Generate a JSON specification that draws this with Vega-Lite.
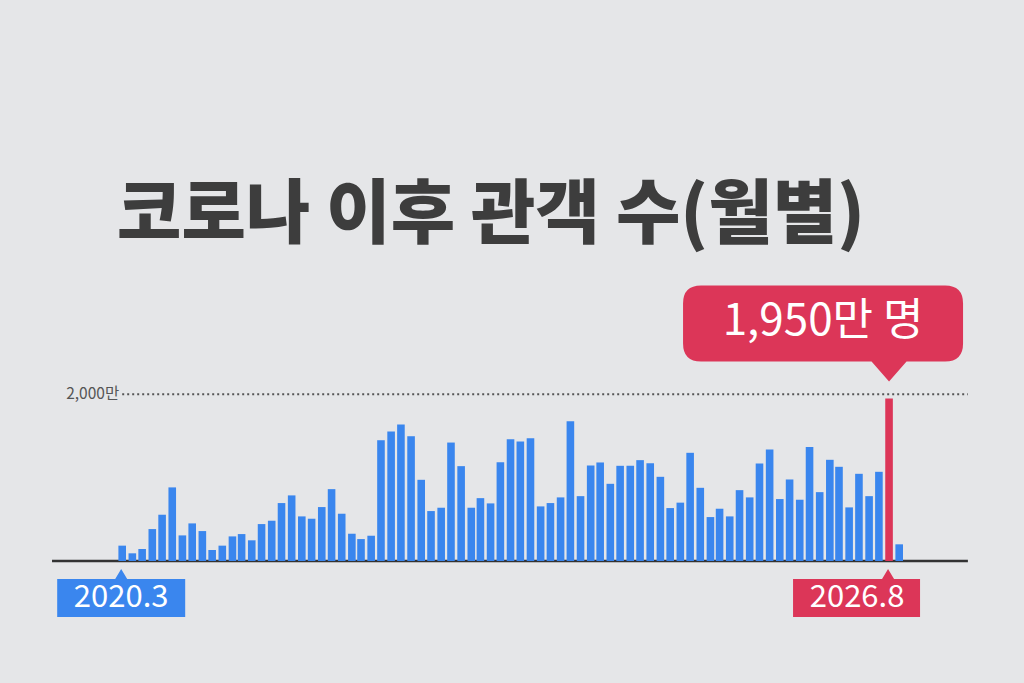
{
  "$schema": "https://vega.github.io/schema/vega-lite/v6.json",
  "width": 1024,
  "height": 683,
  "autosize": "none",
  "padding": 0,
  "background": "#e5e6e8",
  "title": {
    "text": "코로나 이후 관객 수(월별)",
    "anchor": "start",
    "dx": 117,
    "offset": -308,
    "baseline": "alphabetic",
    "font": "Noto Sans CJK KR",
    "fontSize": 70,
    "fontWeight": 900,
    "color": "#3d3d3d"
  },
  "data": {
    "values": [
      {"m": "2020.3", "date": "2020-03-01", "v": 184},
      {"m": "2020.4", "date": "2020-04-01", "v": 92},
      {"m": "2020.5", "date": "2020-05-01", "v": 144},
      {"m": "2020.6", "date": "2020-06-01", "v": 383},
      {"m": "2020.7", "date": "2020-07-01", "v": 555},
      {"m": "2020.8", "date": "2020-08-01", "v": 883},
      {"m": "2020.9", "date": "2020-09-01", "v": 307},
      {"m": "2020.10", "date": "2020-10-01", "v": 451},
      {"m": "2020.11", "date": "2020-11-01", "v": 359},
      {"m": "2020.12", "date": "2020-12-01", "v": 132},
      {"m": "2021.1", "date": "2021-01-01", "v": 184},
      {"m": "2021.2", "date": "2021-02-01", "v": 295},
      {"m": "2021.3", "date": "2021-03-01", "v": 323},
      {"m": "2021.4", "date": "2021-04-01", "v": 248},
      {"m": "2021.5", "date": "2021-05-01", "v": 443},
      {"m": "2021.6", "date": "2021-06-01", "v": 483},
      {"m": "2021.7", "date": "2021-07-01", "v": 695},
      {"m": "2021.8", "date": "2021-08-01", "v": 787},
      {"m": "2021.9", "date": "2021-09-01", "v": 535},
      {"m": "2021.10", "date": "2021-10-01", "v": 507},
      {"m": "2021.11", "date": "2021-11-01", "v": 647},
      {"m": "2021.12", "date": "2021-12-01", "v": 862},
      {"m": "2022.1", "date": "2022-01-01", "v": 567},
      {"m": "2022.2", "date": "2022-02-01", "v": 327},
      {"m": "2022.3", "date": "2022-03-01", "v": 263},
      {"m": "2022.4", "date": "2022-04-01", "v": 303},
      {"m": "2022.5", "date": "2022-05-01", "v": 1449},
      {"m": "2022.6", "date": "2022-06-01", "v": 1553},
      {"m": "2022.7", "date": "2022-07-01", "v": 1637},
      {"m": "2022.8", "date": "2022-08-01", "v": 1497},
      {"m": "2022.9", "date": "2022-09-01", "v": 974},
      {"m": "2022.10", "date": "2022-10-01", "v": 599},
      {"m": "2022.11", "date": "2022-11-01", "v": 639},
      {"m": "2022.12", "date": "2022-12-01", "v": 1421},
      {"m": "2023.1", "date": "2023-01-01", "v": 1138},
      {"m": "2023.2", "date": "2023-02-01", "v": 639},
      {"m": "2023.3", "date": "2023-03-01", "v": 754},
      {"m": "2023.4", "date": "2023-04-01", "v": 691},
      {"m": "2023.5", "date": "2023-05-01", "v": 1186},
      {"m": "2023.6", "date": "2023-06-01", "v": 1461},
      {"m": "2023.7", "date": "2023-07-01", "v": 1433},
      {"m": "2023.8", "date": "2023-08-01", "v": 1473},
      {"m": "2023.9", "date": "2023-09-01", "v": 655},
      {"m": "2023.10", "date": "2023-10-01", "v": 695},
      {"m": "2023.11", "date": "2023-11-01", "v": 763},
      {"m": "2023.12", "date": "2023-12-01", "v": 1677},
      {"m": "2024.1", "date": "2024-01-01", "v": 778},
      {"m": "2024.2", "date": "2024-02-01", "v": 1146},
      {"m": "2024.3", "date": "2024-03-01", "v": 1182},
      {"m": "2024.4", "date": "2024-04-01", "v": 926},
      {"m": "2024.5", "date": "2024-05-01", "v": 1142},
      {"m": "2024.6", "date": "2024-06-01", "v": 1142},
      {"m": "2024.7", "date": "2024-07-01", "v": 1210},
      {"m": "2024.8", "date": "2024-08-01", "v": 1174},
      {"m": "2024.9", "date": "2024-09-01", "v": 1010},
      {"m": "2024.10", "date": "2024-10-01", "v": 635},
      {"m": "2024.11", "date": "2024-11-01", "v": 700},
      {"m": "2024.12", "date": "2024-12-01", "v": 1298},
      {"m": "2025.1", "date": "2025-01-01", "v": 878},
      {"m": "2025.2", "date": "2025-02-01", "v": 527},
      {"m": "2025.3", "date": "2025-03-01", "v": 627},
      {"m": "2025.4", "date": "2025-04-01", "v": 535},
      {"m": "2025.5", "date": "2025-05-01", "v": 850},
      {"m": "2025.6", "date": "2025-06-01", "v": 763},
      {"m": "2025.7", "date": "2025-07-01", "v": 1170},
      {"m": "2025.8", "date": "2025-08-01", "v": 1337},
      {"m": "2025.9", "date": "2025-09-01", "v": 743},
      {"m": "2025.10", "date": "2025-10-01", "v": 978},
      {"m": "2025.11", "date": "2025-11-01", "v": 735},
      {"m": "2025.12", "date": "2025-12-01", "v": 1369},
      {"m": "2026.1", "date": "2026-01-01", "v": 826},
      {"m": "2026.2", "date": "2026-02-01", "v": 1214},
      {"m": "2026.3", "date": "2026-03-01", "v": 1130},
      {"m": "2026.4", "date": "2026-04-01", "v": 643},
      {"m": "2026.5", "date": "2026-05-01", "v": 1046},
      {"m": "2026.6", "date": "2026-06-01", "v": 778},
      {"m": "2026.7", "date": "2026-07-01", "v": 1070},
      {"m": "2026.8", "date": "2026-08-01", "v": 1950},
      {"m": "2026.9", "date": "2026-09-01", "v": 200}
    ]
  },
  "layer": [
    {
      "data": {"values": [{}]},
      "mark": {"type": "rule", "color": "#333333", "strokeWidth": 2.5},
      "encoding": {
        "x": {"datum": {"year": 2019, "month": 7, "date": 30, "hours": 12, "utc": true}, "type": "temporal"},
        "x2": {"datum": {"year": 2027, "month": 3, "date": 30, "utc": true}},
        "y": {"datum": 0, "type": "quantitative"}
      }
    },
    {
      "data": {"values": [{}]},
      "mark": {"type": "rule", "color": "#555555", "strokeWidth": 2, "strokeDash": [2, 3]},
      "encoding": {
        "x": {"datum": {"year": 2020, "month": 3, "date": 1, "utc": true}, "type": "temporal"},
        "x2": {"datum": {"year": 2027, "month": 3, "date": 30, "utc": true}},
        "y": {"datum": 2000, "type": "quantitative"}
      }
    },
    {
      "data": {"values": [{}]},
      "mark": {"type": "text", "align": "right", "baseline": "middle", "dx": -3, "fontSize": 15.5, "color": "#555555", "font": "Noto Sans CJK KR"},
      "encoding": {
        "x": {"datum": {"year": 2020, "month": 3, "date": 1, "utc": true}, "type": "temporal"},
        "y": {"datum": 2000, "type": "quantitative"},
        "text": {"value": "2,000만"}
      }
    },
    {
      "mark": {"type": "bar", "orient": "vertical", "width": 7.6},
      "encoding": {
        "x": {
          "field": "date",
          "type": "temporal",
          "axis": null,
          "scale": {
            "type": "utc",
            "padding": 0,
            "domain": [
              {"year": 2019, "month": 2, "date": 21, "hours": 12, "utc": true},
              {"year": 2027, "month": 9, "date": 17, "hours": 12, "utc": true}
            ]
          }
        },
        "y": {
          "field": "v",
          "type": "quantitative",
          "axis": null,
          "scale": {"domain": [-1464, 6731], "nice": false, "zero": false, "padding": 0}
        },
        "y2": {"datum": 0},
        "color": {
          "condition": {"test": "datum.m === '2026.8'", "value": "#dc3658"},
          "value": "#3a86ee"
        }
      }
    },
    {
      "transform": [{"filter": {"field": "m", "equal": "2026.8"}}],
      "mark": {
        "type": "point",
        "shape": "M -1.88 -1.13 L 0.56 -1.13 Q 0.74 -1.13 0.74 -0.95 L 0.74 -0.55 Q 0.74 -0.37 0.56 -0.37 L 0.175 -0.37 L 0 -0.17 L -0.175 -0.37 L -1.88 -0.37 Q -2.06 -0.37 -2.06 -0.55 L -2.06 -0.95 Q -2.06 -1.13 -1.88 -1.13 Z",
        "size": 40000,
        "filled": true,
        "opacity": 1,
        "strokeWidth": 0,
        "color": "#dc3658"
      },
      "encoding": {
        "x": {"field": "date", "type": "temporal"},
        "y": {"field": "v", "type": "quantitative"}
      }
    },
    {
      "transform": [{"filter": {"field": "m", "equal": "2026.8"}}],
      "mark": {"type": "text", "align": "center", "baseline": "middle", "dx": -66, "dy": -76, "fontSize": 44, "color": "#ffffff", "font": "Noto Sans CJK KR"},
      "encoding": {
        "x": {"field": "date", "type": "temporal"},
        "y": {"field": "v", "type": "quantitative"},
        "text": {"value": "1,950만 명"}
      }
    },
    {
      "transform": [{"filter": {"field": "m", "equal": "2020.3"}}],
      "mark": {
        "type": "point",
        "shape": "M -0.65 0.18 L -0.07 0.18 L -0.01 0.08 L 0.05 0.18 L 0.63 0.18 L 0.63 0.56 L -0.65 0.56 Z",
        "size": 40000,
        "filled": true,
        "opacity": 1,
        "strokeWidth": 0,
        "color": "#3a86ee"
      },
      "encoding": {
        "x": {"field": "date", "type": "temporal"},
        "y": {"datum": 0, "type": "quantitative"}
      }
    },
    {
      "transform": [{"filter": {"field": "m", "equal": "2020.3"}}],
      "mark": {"type": "text", "align": "center", "baseline": "middle", "dx": -1, "dy": 37, "fontSize": 31, "color": "#ffffff", "font": "Noto Sans CJK KR"},
      "encoding": {
        "x": {"field": "date", "type": "temporal"},
        "y": {"datum": 0, "type": "quantitative"},
        "text": {"field": "m"}
      }
    },
    {
      "transform": [{"filter": {"field": "m", "equal": "2026.8"}}],
      "mark": {
        "type": "point",
        "shape": "M -0.96 0.18 L -0.07 0.18 L -0.01 0.08 L 0.05 0.18 L 0.31 0.18 L 0.31 0.56 L -0.96 0.56 Z",
        "size": 40000,
        "filled": true,
        "opacity": 1,
        "strokeWidth": 0,
        "color": "#dc3658"
      },
      "encoding": {
        "x": {"field": "date", "type": "temporal"},
        "y": {"datum": 0, "type": "quantitative"}
      }
    },
    {
      "transform": [{"filter": {"field": "m", "equal": "2026.8"}}],
      "mark": {"type": "text", "align": "center", "baseline": "middle", "dx": -32, "dy": 37, "fontSize": 31, "color": "#ffffff", "font": "Noto Sans CJK KR"},
      "encoding": {
        "x": {"field": "date", "type": "temporal"},
        "y": {"datum": 0, "type": "quantitative"},
        "text": {"field": "m"}
      }
    }
  ],
  "config": {
    "view": {"stroke": null},
    "axis": {"disable": true}
  }
}
